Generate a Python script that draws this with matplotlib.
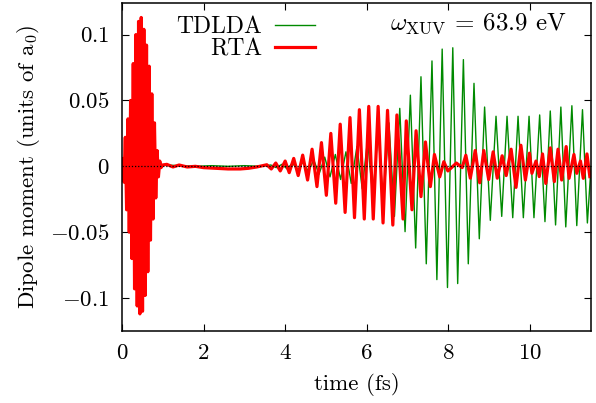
import matplotlib
matplotlib.use("Agg")
import matplotlib.pyplot as plt
from matplotlib.ticker import FuncFormatter

# ---- values (extrema of the dipole signal) ----
# XUV pump, both calculations coincide here
pump_t = [0.000, 0.016, 0.048, 0.081, 0.113, 0.146, 0.178, 0.211, 0.243, 0.276,
          0.308, 0.341, 0.373, 0.406, 0.438, 0.471, 0.503, 0.536, 0.568, 0.601,
          0.633, 0.666, 0.698, 0.731, 0.763, 0.796, 0.828, 0.861, 0.893, 0.926,
          0.958, 0.990]
pump_d = [0.0, 0.006, -0.012, 0.022, -0.033, 0.036, -0.050, 0.050, -0.070, 0.078,
          -0.093, 0.100, -0.106, 0.110, -0.112, 0.113, -0.110, 0.104, -0.098, 0.092,
          -0.080, 0.076, -0.056, 0.055, -0.040, 0.033, -0.024, 0.012, -0.008, 0.004,
          -0.001, 0.001]

# RTA after the pump
rta_t = [1.10, 1.25, 1.40, 1.60, 1.80, 2.00, 2.30, 2.60, 2.90, 3.10, 3.30, 3.45,
         3.55, 3.66, 3.77, 3.88, 4.00, 4.10, 4.21, 4.32, 4.43, 4.55, 4.66, 4.78,
         4.89, 5.01, 5.12, 5.24, 5.35, 5.47, 5.59, 5.70, 5.82, 5.94, 6.05, 6.16,
         6.28, 6.40, 6.51, 6.64, 6.74, 6.89, 6.97, 7.11, 7.21, 7.33, 7.44, 7.56,
         7.66, 7.79, 7.89, 7.99, 8.20, 8.34, 8.43, 8.54, 8.66, 8.77, 8.87, 8.99,
         9.10, 9.20, 9.32, 9.42, 9.54, 9.66, 9.78, 9.89, 9.99, 10.05, 10.15, 10.23,
         10.31, 10.39, 10.50, 10.60, 10.69, 10.78, 10.89, 10.96, 11.08, 11.15,
         11.24, 11.31, 11.40, 11.47]
rta_d = [0.0015, -0.0005, 0.001, -0.0005, 0.0, -0.001, -0.0015, -0.002, -0.002, -0.0015, -0.0005, 0.0005,
         0.0012, -0.002, 0.0025, -0.0035, 0.004, -0.0048, 0.006, -0.007, 0.0085, -0.0104, 0.013, -0.0154,
         0.018, -0.022, 0.025, -0.028, 0.032, -0.035, 0.037, -0.039, 0.043, -0.040, 0.0455, -0.040,
         0.0455, -0.043, 0.0425, -0.0446, 0.039, -0.040, 0.0345, -0.033, 0.027, -0.023, 0.0185, -0.0154,
         0.009, -0.008, 0.0035, -0.0035, 0.0025, -0.001, 0.0084, -0.009, 0.012, -0.0125, 0.012, -0.010,
         0.011, -0.009, 0.008, -0.007, 0.013, -0.016, 0.016, -0.0104, 0.010, -0.0053, 0.004, -0.0078,
         0.0094, -0.013, 0.014, -0.0116, 0.013, -0.0104, 0.015, -0.0091, 0.009, -0.0053,
         0.004, -0.0091, 0.0094, -0.0078]

# TDLDA after the pump
tdlda_t = [1.10, 1.40, 1.80, 2.20, 2.60, 3.00, 3.40,
           3.65, 3.78, 3.92, 4.05, 4.18, 4.31, 4.44, 4.57, 4.70, 4.83, 4.97, 5.10,
           5.23, 5.36, 5.49, 5.62, 5.76, 5.89, 6.02, 6.15, 6.28, 6.41, 6.545, 6.68,
           6.81, 6.94, 7.07, 7.20, 7.33, 7.46, 7.60, 7.72, 7.85, 7.98, 8.11, 8.23,
           8.37, 8.49, 8.63, 8.76, 8.89, 9.03, 9.17, 9.31, 9.44, 9.58, 9.71, 9.84,
           9.98, 10.10, 10.24, 10.37, 10.50, 10.63, 10.76, 10.88, 11.03, 11.15,
           11.29, 11.41, 11.50]
tdlda_d = [0.001, 0.0005, 0.0, 0.0005, 0.0, 0.0005, 0.0,
           0.001, -0.001, 0.0015, -0.002, 0.0025, -0.003, 0.0035, -0.004, 0.005, -0.006, 0.007, -0.008,
           0.009, -0.010, 0.011, -0.013, 0.015, -0.017, 0.020, -0.023, 0.027, -0.029, 0.033, -0.038,
           0.044, -0.0496, 0.054, -0.062, 0.068, -0.074, 0.080, -0.086, 0.089, -0.092, 0.090, -0.089,
           0.081, -0.074, 0.063, -0.055, 0.045, -0.041, 0.038, -0.038, 0.038, -0.039, 0.038, -0.039,
           0.038, -0.039, 0.039, -0.042, 0.042, -0.0445, 0.045, -0.046, 0.046, -0.045,
           0.043, -0.043, 0.0]

x_ticks = [0, 2, 4, 6, 8, 10]
y_ticks = [-0.1, -0.05, 0, 0.05, 0.1]

plt.rcParams["font.family"] = "serif"
plt.rcParams["font.serif"] = ["cmr10", "DejaVu Serif"]
plt.rcParams["mathtext.fontset"] = "cm"
plt.rcParams["axes.formatter.use_mathtext"] = True
FS = 16.5

fig = plt.figure(figsize=(5.96, 4.03), dpi=100)
ax = fig.add_axes([0.2047, 0.1787, 0.787, 0.8139])

ax.plot(pump_t + tdlda_t, pump_d + tdlda_d, color="#008a00", lw=1.0, label="TDLDA")
ax.plot(pump_t + rta_t, pump_d + rta_d, color="#ff0000", lw=2.3, label="RTA",
        solid_joinstyle="round")
ax.axhline(0, color="black", lw=0.9, ls=(0, (1, 1.5)), zorder=5)

ax.set_xlim(0, 11.5)
ax.set_ylim(-0.125, 0.124)
ax.set_xticks(x_ticks)
ax.set_yticks(y_ticks)


def fmt(v, pos):
    return "$%g$" % v


ax.xaxis.set_major_formatter(FuncFormatter(fmt))
ax.yaxis.set_major_formatter(FuncFormatter(fmt))
ax.tick_params(direction="in", top=True, right=True, length=5, width=0.8,
               labelsize=FS, pad=9)
for sp in ax.spines.values():
    sp.set_linewidth(1.1)

ax.set_xlabel("time (fs)", fontsize=FS, labelpad=7)
ax.set_ylabel(r"Dipole moment (units of a$_0$)", fontsize=FS, labelpad=6)

ax.text(0.759, 0.938, r"$\omega_{\mathrm{XUV}}$ = 63.9 eV", transform=ax.transAxes,
        fontsize=FS + 1.5, ha="center", va="center")

leg = ax.legend(loc="upper right", bbox_to_anchor=(0.442, 1.004), frameon=False,
                markerfirst=False, fontsize=FS + 0.5, handlelength=1.7, handletextpad=0.55,
                labelspacing=0.0, borderaxespad=0.2)

fig.savefig("out.png", dpi=100)
